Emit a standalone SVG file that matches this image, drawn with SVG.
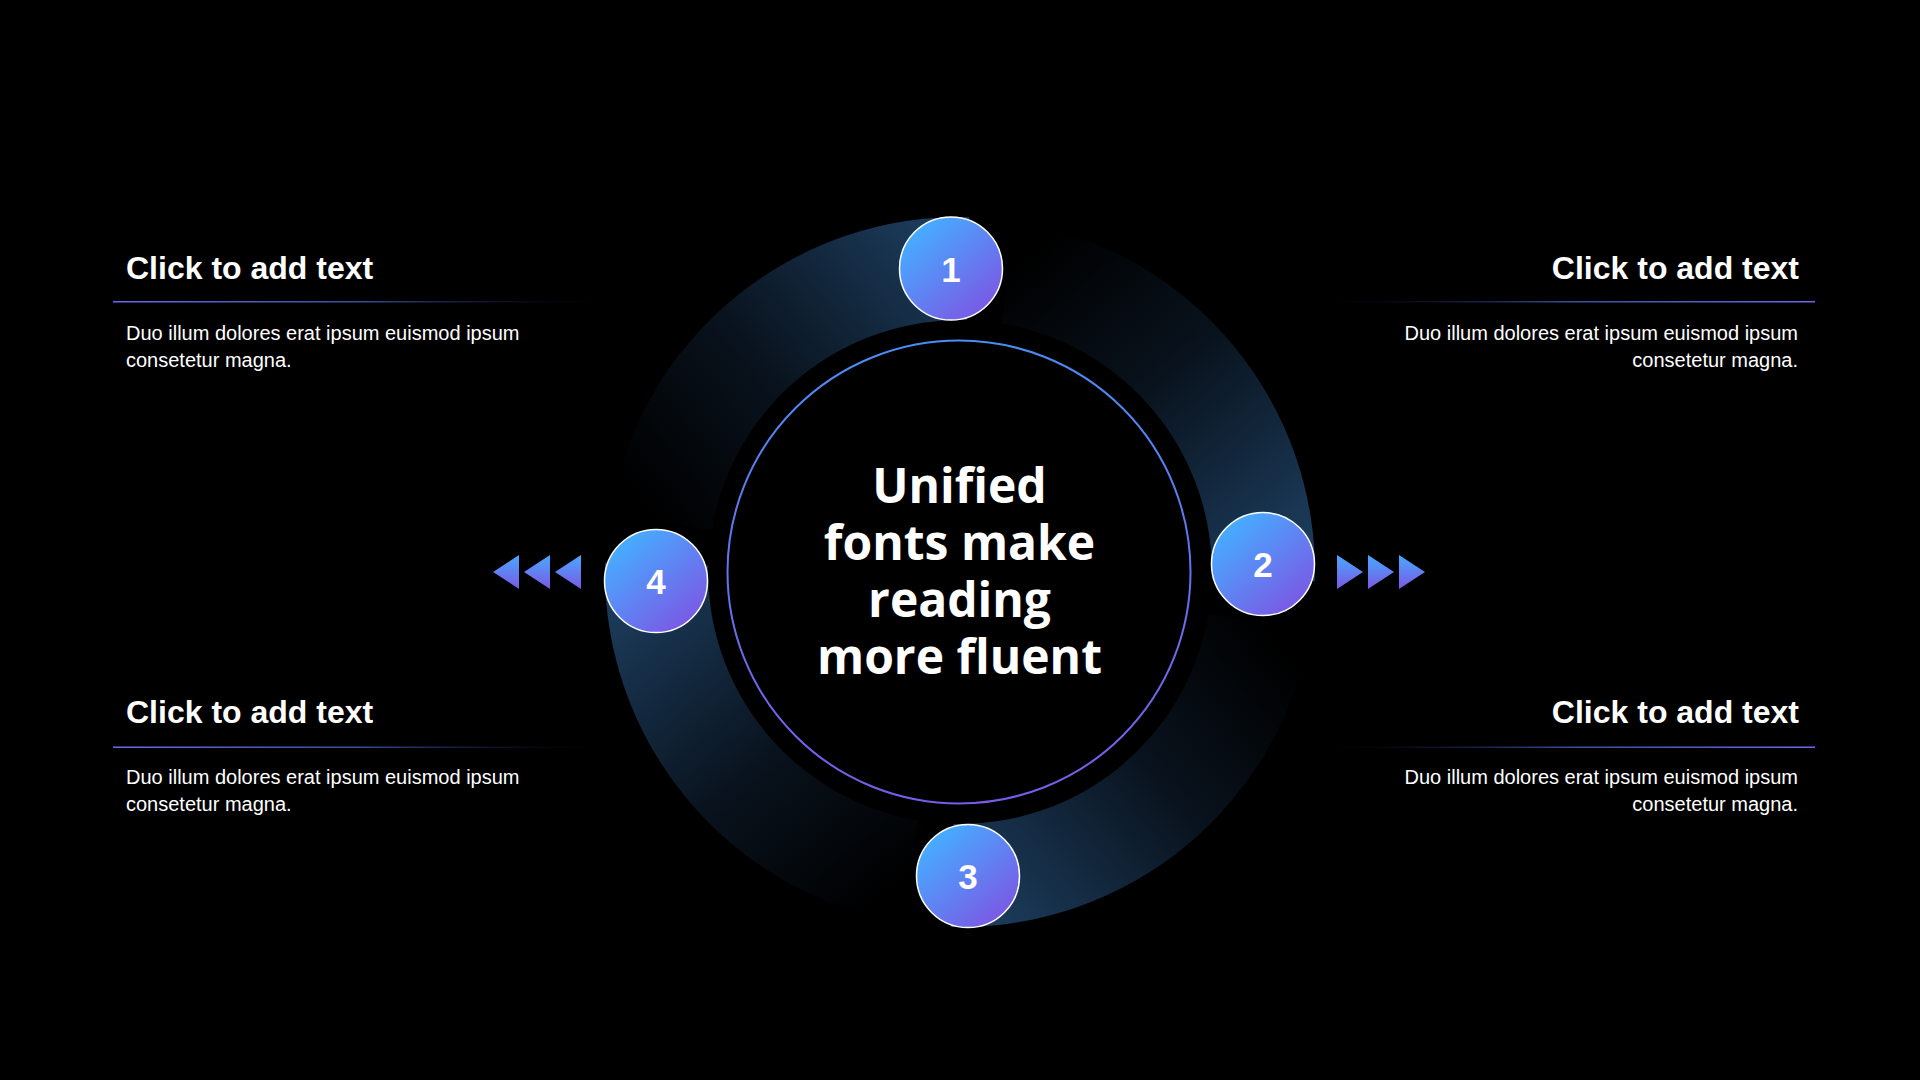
<svg xmlns="http://www.w3.org/2000/svg" width="1920" height="1080" viewBox="0 0 1920 1080">
  <defs>
    <style>
      .title { font-family: "Liberation Sans", Arial, sans-serif; font-weight: bold; font-size: 32px; fill: #ffffff; }
      .body { font-family: "Liberation Sans", Arial, sans-serif; font-size: 20px; fill: #ffffff; }
      .num { font-family: "Liberation Sans", Arial, sans-serif; font-weight: bold; font-size: 35px; fill: #ffffff; text-anchor: middle; }
      .center { font-family: "Open Sans", "Noto Sans", sans-serif; font-weight: bold; font-size: 48px; fill: #ffffff; text-anchor: middle; }
      .badge { fill: url(#badgeGrad); stroke: #ffffff; stroke-width: 1.5; }
      .arrow { fill: url(#arrowGrad); }
    </style>
    <linearGradient id="badgeGrad" x1="0.2" y1="0.15" x2="0.85" y2="0.9">
      <stop offset="0" stop-color="#48a9ff"/>
      <stop offset="1" stop-color="#7b58e4"/>
    </linearGradient>
    <linearGradient id="arrowGrad" x1="0" y1="0" x2="0" y2="1">
      <stop offset="0" stop-color="#48a9ff"/>
      <stop offset="1" stop-color="#7b58e4"/>
    </linearGradient>
    <linearGradient id="ringStroke" x1="0" y1="0" x2="0" y2="1">
      <stop offset="0" stop-color="#4a8df5"/>
      <stop offset="1" stop-color="#7a5be8"/>
    </linearGradient>
    <linearGradient id="lineL" x1="0" y1="0" x2="1" y2="0">
      <stop offset="0" stop-color="#6a68f0"/>
      <stop offset="0.5" stop-color="#3a4ea0"/>
      <stop offset="1" stop-color="#0a1020" stop-opacity="0"/>
    </linearGradient>
    <linearGradient id="lineR" x1="1" y1="0" x2="0" y2="0">
      <stop offset="0" stop-color="#6a68f0"/>
      <stop offset="0.5" stop-color="#3a4ea0"/>
      <stop offset="1" stop-color="#0a1020" stop-opacity="0"/>
    </linearGradient>
    <linearGradient id="segA" gradientUnits="userSpaceOnUse" x1="1010" y1="273" x2="1263" y2="580">
      <stop offset="0" stop-color="#000000"/>
      <stop offset="0.45" stop-color="#09131e"/>
      <stop offset="1" stop-color="#1c3c5c"/>
    </linearGradient>
    <linearGradient id="segB" gradientUnits="userSpaceOnUse" x1="1259" y1="622" x2="952" y2="875">
      <stop offset="0" stop-color="#000000"/>
      <stop offset="0.45" stop-color="#09131e"/>
      <stop offset="1" stop-color="#1c3c5c"/>
    </linearGradient>
    <linearGradient id="segC" gradientUnits="userSpaceOnUse" x1="910" y1="871" x2="657" y2="564">
      <stop offset="0" stop-color="#000000"/>
      <stop offset="0.45" stop-color="#09131e"/>
      <stop offset="1" stop-color="#1c3c5c"/>
    </linearGradient>
    <linearGradient id="segD" gradientUnits="userSpaceOnUse" x1="661" y1="522" x2="968" y2="269">
      <stop offset="0" stop-color="#000000"/>
      <stop offset="0.45" stop-color="#09131e"/>
      <stop offset="1" stop-color="#1c3c5c"/>
    </linearGradient>
  </defs>

  <rect x="0" y="0" width="1920" height="1080" fill="#000000"/>

  <!-- Ring segments -->
  <g id="ring">
    <path d="M1018.6,221.9 A355,355 0 0 1 1314.9,581.3 L1211.9,578.6 A252,252 0 0 0 1001.6,323.5 Z" fill="url(#segA)"/>
    <path d="M1310.1,630.6 A355,355 0 0 1 950.7,926.9 L953.4,823.9 A252,252 0 0 0 1208.6,613.6 Z" fill="url(#segB)"/>
    <path d="M901.4,922.1 A355,355 0 0 1 605.1,562.7 L708.1,565.4 A252,252 0 0 0 918.4,820.5 Z" fill="url(#segC)"/>
    <path d="M609.9,513.4 A355,355 0 0 1 969.3,217.1 L966.6,320.1 A252,252 0 0 0 711.4,530.4 Z" fill="url(#segD)"/>
  </g>

  <!-- Center node -->
  <g id="center">
    <circle cx="959" cy="572" r="231.5" fill="#000000" stroke="url(#ringStroke)" stroke-width="2"/>
    <text class="center" x="959.5" y="503">Unified</text>
    <text class="center" x="959.5" y="560">fonts make</text>
    <text class="center" x="959.5" y="617">reading</text>
    <text class="center" x="959.5" y="674">more fluent</text>
  </g>

  <!-- Connectors: arrows -->
  <g id="connectors">
    <polygon class="arrow" points="1337,555 1363,572 1337,589"/>
    <polygon class="arrow" points="1368,555 1394,572 1368,589"/>
    <polygon class="arrow" points="1399,555 1425,572 1399,589"/>
    <polygon class="arrow" points="519,555 493,572 519,589"/>
    <polygon class="arrow" points="550,555 524,572 550,589"/>
    <polygon class="arrow" points="581,555 555,572 581,589"/>
  </g>

  <!-- Numbered nodes -->
  <g id="node1">
    <circle class="badge" cx="951" cy="268.5" r="51.5"/>
    <text class="num" x="951" y="281.5">1</text>
  </g>
  <g id="node2">
    <circle class="badge" cx="1263" cy="564" r="51.5"/>
    <text class="num" x="1263" y="577">2</text>
  </g>
  <g id="node3">
    <circle class="badge" cx="968" cy="876" r="51.5"/>
    <text class="num" x="968" y="889">3</text>
  </g>
  <g id="node4">
    <circle class="badge" cx="656" cy="581" r="51.5"/>
    <text class="num" x="656" y="594">4</text>
  </g>

  <!-- Text blocks -->
  <g id="text-top-left">
    <text class="title" x="126" y="279">Click to add text</text>
    <rect x="113" y="301" width="487" height="1.5" fill="url(#lineL)"/>
    <text class="body" x="126" y="340">Duo illum dolores erat ipsum euismod ipsum</text>
    <text class="body" x="126" y="367">consetetur magna.</text>
  </g>
  <g id="text-top-right">
    <text class="title" x="1799" y="279" text-anchor="end">Click to add text</text>
    <rect x="1328" y="301" width="487" height="1.5" fill="url(#lineR)"/>
    <text class="body" x="1798" y="340" text-anchor="end">Duo illum dolores erat ipsum euismod ipsum</text>
    <text class="body" x="1798" y="367" text-anchor="end">consetetur magna.</text>
  </g>
  <g id="text-bottom-left">
    <text class="title" x="126" y="723">Click to add text</text>
    <rect x="113" y="746.5" width="487" height="1.5" fill="url(#lineL)"/>
    <text class="body" x="126" y="784">Duo illum dolores erat ipsum euismod ipsum</text>
    <text class="body" x="126" y="811">consetetur magna.</text>
  </g>
  <g id="text-bottom-right">
    <text class="title" x="1799" y="723" text-anchor="end">Click to add text</text>
    <rect x="1328" y="746.5" width="487" height="1.5" fill="url(#lineR)"/>
    <text class="body" x="1798" y="784" text-anchor="end">Duo illum dolores erat ipsum euismod ipsum</text>
    <text class="body" x="1798" y="811" text-anchor="end">consetetur magna.</text>
  </g>
</svg>
